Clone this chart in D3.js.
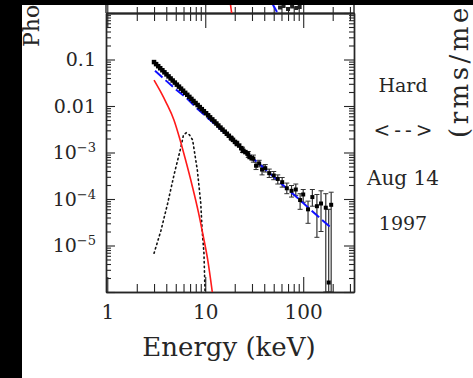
<!DOCTYPE html>
<html><head><meta charset="utf-8">
<script src="https://cdn.jsdelivr.net/npm/d3@7"></script>
<style>body{margin:0;background:#000;}svg{display:block;}</style>
</head><body>
<script>
// ---- data ----
const pcaE = [3.00,3.15,3.31,3.47,3.65,3.83,4.02,4.22,4.43,4.65,4.89,5.13,5.39,5.66,5.94,6.24,6.55,6.88,7.22,7.58,7.96,8.36,8.78,9.22,9.68,10.2,10.7,11.2,11.8,12.4,13.0,13.6,14.3,15.0,15.8,16.6,17.4,18.3,19.2,20.1,21.1,22.2,23.3,24.5,25.7,27.0,28.4,29.8];
const pcaF = [0.0880,0.0795,0.0718,0.0649,0.0587,0.0530,0.0479,0.0433,0.0391,0.0353,0.0319,0.0288,0.0261,0.0236,0.0213,0.0192,0.0174,0.0157,0.0142,0.0128,0.0116,0.0105,0.00947,0.00855,0.00773,0.00698,0.00631,0.00570,0.00515,0.00465,0.00420,0.00380,0.00343,0.00310,0.00280,0.00253,0.00229,0.00207,0.00187,0.00169,0.00152,0.00141,0.00124,0.00108,0.00102,0.00095,0.00080,0.00075];
const hexE  = [18.5,21,24,27.5,31,33,35.5,38,41,45,50,55,61,68,76,84,93,100,112,124,138,152,170,182,193];
const hexF  = [2.0e-3,1.6e-3,1.15e-3,9.0e-4,7.4e-4,5.2e-4,5.8e-4,4.3e-4,4.6e-4,3.6e-4,3.2e-4,2.7e-4,2.3e-4,1.7e-4,1.5e-4,1.6e-4,9.5e-5,1.25e-4,6.0e-5,1.1e-4,7.0e-5,8.0e-5,6.5e-5,1.6e-6,7.5e-5];
const hexLo = [1.85e-3,1.45e-3,1.0e-3,7.8e-4,6.2e-4,4.3e-4,4.9e-4,3.3e-4,3.8e-4,2.9e-4,2.6e-4,2.1e-4,1.8e-4,1.3e-4,1.1e-4,1.2e-4,6.0e-5,8.5e-5,3.0e-5,7.0e-5,1.5e-5,2.0e-5,1e-6,1e-6,1e-6];
const hexHi = [2.15e-3,1.75e-3,1.3e-3,1.05e-3,8.8e-4,6.2e-4,6.8e-4,5.3e-4,5.5e-4,4.4e-4,3.9e-4,3.3e-4,2.9e-4,2.2e-4,1.95e-4,2.1e-4,1.3e-4,1.6e-4,9.0e-5,1.6e-4,1.25e-4,1.5e-4,1.3e-4,6.0e-5,1.4e-4];
const modelE = [3.07,4,5,6.4,8,10,15,20,30,50,70,100,150,195];
const modelF = [0.057,0.0347,0.0228,0.0150,0.0094,0.0062,0.0029,0.00169,0.00078,0.00030,0.00016,0.000082,0.000038,0.0000234];
const diskE = [3.0,3.5,4.0,4.79,5.5,6.2,7.4,8.5,9.5,10.6,11.8];
const diskF = [0.036,0.0203,0.0117,0.005,0.00195,0.00078,0.000184,0.000053,0.0000166,0.0000049,0.000001];
const lineE = [3.0,3.53,4.13,4.83,5.64,6.0,6.4,6.9,7.43,8.3,9.0,9.3,9.7,9.95];
const lineF = [6.8e-6,2.1e-5,8e-5,3.5e-4,1.3e-3,2.4e-3,2.65e-3,2.4e-3,1.86e-3,4.2e-4,8.1e-5,2.1e-5,6.8e-6,1.0e-6];
// upper panel fragments (only its bottom edge is visible)
const upRedE = [18.0,18.6];   const upRedV = [1,0];
const upBlueE = [48,54];      const upBlueV = [1,0.1];
const upPtsE = [58,63,70,77,85,92]; const upPtsV = [0.55,0.7,0.4,0.65,0.5,0.6];
const xMajor = [1,10,100];
const xMinor = [2,3,4,5,6,7,8,9,20,30,40,50,60,70,80,90,200,300];
const yMajor = [1e-6,1e-5,1e-4,1e-3,1e-2,1e-1,1];
const yLabels = [1e-5,1e-4,1e-3,1e-2,1e-1];
const yMinor = [];
[-6,-5,-4,-3,-2,-1].forEach(p=>{for(let k=2;k<=9;k++) yMinor.push(k*Math.pow(10,p));});
const xTitle = "Energy (keV)";
const leftTitle = "Photons cm\u207B\u00B2 s\u207B\u00B9 keV\u207B\u00B9";
const rightTitle = "(rms/mean)";
const sideText = ["Hard","<-->","Aug 14","1997"];

// ---- drawing ----
const W=473,H=378;
const svg=d3.select("body").append("svg").attr("width",W).attr("height",H);
svg.append("rect").attr("width",W).attr("height",H).attr("fill","#000");
svg.append("rect").attr("x",22).attr("y",5).attr("width",W-22).attr("height",H-5).attr("fill","#fff");
const defs=svg.append("defs");
defs.append("clipPath").attr("id","page").append("rect").attr("x",22).attr("y",5).attr("width",W-22).attr("height",H-5);
defs.append("clipPath").attr("id","plot").append("rect").attr("x",106).attr("y",13).attr("width",248).attr("height",279);
defs.append("clipPath").attr("id","up").append("rect").attr("x",106).attr("y",5).attr("width",248).attr("height",8);

const x=d3.scaleLog().domain([0.97,330]).range([106,354]);
const y=d3.scaleLog().domain([1e-6,1]).range([292,13]);
const yUp=d3.scaleLinear().domain([0,1]).range([13,3]);

const ink="#262626";
const font="'DejaVu Serif', serif";
const page=svg.append("g").attr("clip-path","url(#page)");

function styleAxis(g){g.selectAll("path.domain").attr("stroke",ink).attr("stroke-width",1.4);
  g.selectAll(".tick line").attr("stroke",ink).attr("stroke-width",1.1);
  g.selectAll("text").attr("fill",ink).attr("font-family",font);}

// bottom
page.append("g").attr("transform","translate(0,292)")
  .call(d3.axisBottom(x).tickValues(xMinor).tickSizeInner(-8).tickSizeOuter(0).tickFormat(""))
  .call(styleAxis);
page.append("g").attr("transform","translate(0,292)")
  .call(d3.axisBottom(x).tickValues(xMajor).tickSizeInner(-15).tickSizeOuter(0).tickPadding(13).tickFormat(d3.format("d")))
  .call(styleAxis).call(g=>g.selectAll("text").attr("font-size",20));
// top (lower panel, ticks down)
page.append("g").attr("transform","translate(0,13)")
  .call(d3.axisTop(x).tickValues(xMinor).tickSizeInner(-8).tickSizeOuter(0).tickFormat(""))
  .call(styleAxis);
page.append("g").attr("transform","translate(0,13)")
  .call(d3.axisTop(x).tickValues(xMajor).tickSizeInner(-15).tickSizeOuter(0).tickFormat(""))
  .call(styleAxis);
// top (upper panel, ticks up)
page.append("g").attr("transform","translate(0,13)")
  .call(d3.axisTop(x).tickValues(xMinor).tickSizeInner(6).tickSizeOuter(0).tickFormat(""))
  .call(styleAxis);
page.append("g").attr("transform","translate(0,13)")
  .call(d3.axisTop(x).tickValues(xMajor).tickSizeInner(10).tickSizeOuter(0).tickFormat(""))
  .call(styleAxis);
// left
page.append("g").attr("transform","translate(106,0)")
  .call(d3.axisLeft(y).tickValues(yMinor).tickSizeInner(-5).tickSizeOuter(0).tickFormat(""))
  .call(styleAxis);
page.append("g").attr("transform","translate(106,0)")
  .call(d3.axisLeft(y).tickValues(yMajor).tickSizeInner(-9).tickSizeOuter(0).tickFormat(""))
  .call(styleAxis);
const yl=page.append("g").attr("transform","translate(106,0)")
  .call(d3.axisLeft(y).tickValues(yLabels).tickSize(0).tickPadding(10).tickFormat(""))
  .call(styleAxis);
yl.select("path.domain").remove();
yl.selectAll(".tick text").attr("font-size",19).each(function(d){
  const t=d3.select(this); t.text(null);
  if(d>=0.01){t.text(d===0.1?"0.1":"0.01");}
  else{const p=Math.round(Math.log10(d));
    t.append("tspan").text("10");
    t.append("tspan").attr("dy",-7).attr("font-size",13).text("\u2212"+(-p));}
});
page.append("line").attr("x1",106).attr("x2",106).attr("y1",5).attr("y2",13).attr("stroke",ink).attr("stroke-width",1.4);
// right
page.append("g").attr("transform","translate(354,0)")
  .call(d3.axisRight(y).tickValues(yMinor).tickSizeInner(-5).tickSizeOuter(0).tickFormat(""))
  .call(styleAxis);
page.append("g").attr("transform","translate(354,0)")
  .call(d3.axisRight(y).tickValues(yMajor).tickSizeInner(-10).tickSizeOuter(0).tickFormat(""))
  .call(styleAxis);
page.append("line").attr("x1",354).attr("x2",354).attr("y1",5).attr("y2",13).attr("stroke",ink).attr("stroke-width",1.4);

// plot contents
const plot=page.append("g").attr("clip-path","url(#plot)");
const line=d3.line().x(d=>x(d[0])).y(d=>y(d[1]));
const zip=(a,b)=>a.map((v,i)=>[v,b[i]]);

// gaussian (dotted)
plot.append("path").datum(zip(lineE,lineF)).attr("d",line).attr("fill","none")
  .attr("stroke","#111").attr("stroke-width",1.6).attr("stroke-dasharray","1.4,3.2").attr("stroke-linecap","round");
// disk (red)
plot.append("path").datum(zip(diskE,diskF)).attr("d",d3.line().x(d=>x(d[0])).y(d=>y(d[1])).curve(d3.curveMonotoneX))
  .attr("fill","none").attr("stroke","#ff1a1a").attr("stroke-width",1.6);
// error bars
const hex=hexE.map((e,i)=>({e,f:hexF[i],lo:hexLo[i],hi:hexHi[i]}));
plot.selectAll("line.eb").data(hex).enter().append("line").attr("class","eb")
  .attr("x1",d=>x(d.e)).attr("x2",d=>x(d.e)).attr("y1",d=>y(d.lo)).attr("y2",d=>y(d.hi))
  .attr("stroke","#333").attr("stroke-width",1.2);
plot.selectAll("line.ebh").data(hex).enter().append("line").attr("class","ebh")
  .attr("x1",d=>x(d.e)-2.5).attr("x2",d=>x(d.e)+2.5).attr("y1",d=>y(d.lo)).attr("y2",d=>y(d.lo))
  .attr("stroke","#333").attr("stroke-width",1);
plot.selectAll("line.ebt").data(hex).enter().append("line").attr("class","ebt")
  .attr("x1",d=>x(d.e)-2.5).attr("x2",d=>x(d.e)+2.5).attr("y1",d=>y(d.hi)).attr("y2",d=>y(d.hi))
  .attr("stroke","#333").attr("stroke-width",1);
// model (blue dashed)
plot.append("path").datum(zip(modelE,modelF)).attr("d",line).attr("fill","none")
  .attr("stroke","#1010ff").attr("stroke-width",2).attr("stroke-dasharray","10,4");
// points
const s=4.5;
plot.selectAll("rect.pca").data(zip(pcaE,pcaF)).enter().append("rect").attr("class","pca")
  .attr("x",d=>x(d[0])-s/2).attr("y",d=>y(d[1])-s/2).attr("width",s).attr("height",s).attr("fill","#000");
plot.selectAll("rect.hex").data(hex).enter().append("rect").attr("class","hex")
  .attr("x",d=>x(d.e)-2).attr("y",d=>y(d.f)-2).attr("width",4).attr("height",4).attr("fill","#000");

// upper panel fragments
const up=page.append("g").attr("clip-path","url(#up)");
const lineUp=d3.line().x(d=>x(d[0])).y(d=>yUp(d[1]));
up.append("path").datum(zip(upRedE,upRedV)).attr("d",lineUp).attr("stroke","#ff1a1a").attr("stroke-width",1.6).attr("fill","none");
up.append("path").datum(zip(upBlueE,upBlueV)).attr("d",lineUp).attr("stroke","#1010ff").attr("stroke-width",2).attr("fill","none");
up.selectAll("rect").data(zip(upPtsE,upPtsV)).enter().append("rect")
  .attr("x",d=>x(d[0])-2).attr("y",d=>yUp(d[1])-2).attr("width",4).attr("height",4).attr("fill","#222");

// titles
page.append("text").attr("x",229).attr("y",356).attr("text-anchor","middle")
  .attr("font-family",font).attr("font-size",26).attr("fill",ink).text(xTitle);
page.append("text").attr("transform","translate(39,47) rotate(-90)")
  .attr("font-family",font).attr("font-size",22).attr("fill",ink).text(leftTitle);
page.append("text").attr("transform","translate(468,138) rotate(-90)")
  .attr("font-family",font).attr("font-size",26).attr("letter-spacing",3.5).attr("fill",ink).text(rightTitle);
const sideY=[92,137,185,230];
const sideSize=[19,20,20,19];
const sideLS=[0,4,0,0];
sideText.forEach((t,i)=>{
  page.append("text").attr("x",403+sideLS[i]/2).attr("y",sideY[i]).attr("text-anchor","middle")
   .attr("font-family",font).attr("font-size",sideSize[i]).attr("letter-spacing",sideLS[i])
   .attr("fill",ink).text(t);
});
</script>
</body></html>
